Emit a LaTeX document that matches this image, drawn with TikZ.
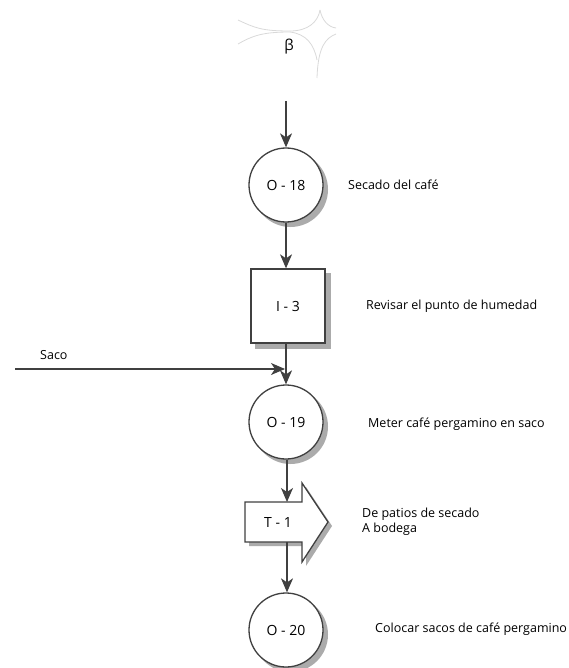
\documentclass[tikz,border=0pt]{standalone}
\usepackage{fontspec}
\setmainfont{Open Sans}
\usetikzlibrary{positioning}
\usetikzlibrary{arrows.meta}
\usetikzlibrary{backgrounds}
\definecolor{lineg}{HTML}{404040}
\definecolor{shadowg}{HTML}{ABABAB}
\tikzset {
  % operation circles
  oper/.style = {draw=lineg, circle, line width=1.3pt, fill=white, minimum size=74pt, inner sep=0pt},
  % inspection box
  insp/.style = {draw=lineg, line width=1.3pt, fill=white, minimum size=74pt, inner sep=0pt},
  % transport arrow
  transp/.style = {draw=lineg, line width=1.3pt, fill=white},
  % grey shadow
  shade/.style = {fill=shadowg},
  % text beside the symbols
  lbl/.style = {anchor=west, inner sep=0pt, font=\fontsize{12.5}{15}\selectfont},
  code/.style = {font=\fontsize{14}{16}\selectfont},
  % flow lines
  flow/.style = {lineg, line width=1.3pt, -{Stealth[length=14pt,width=12pt,inset=4pt]}},
  faint/.style = {black!15, line width=0.8pt},
}

\begin{document}
\begin{tikzpicture}[x=1pt,y=-1pt]
  \useasboundingbox (0,0) rectangle (569,668);

  % connector beta
  \draw[faint] (238,20) .. controls (255,28) and (262,31) .. (290,31);
  \draw[faint] (238,44) .. controls (252,36) and (262,32) .. (290,32);
  \draw[faint] (290,31) .. controls (308,31) and (318,22) .. (320,10);
  \draw[faint] (320,10) .. controls (322,20) and (328,27) .. (336,28);
  \draw[faint] (336,34) .. controls (326,38) and (318,46) .. (317,78);
  \draw[faint] (290,32) .. controls (306,34) and (314,44) .. (317,60);
  \node[font=\fontsize{15}{17}\selectfont] (beta) at (289,47) {β};

  \coordinate (start) at (286,101);

  \node[oper, code] (o18) at (286,185) {O - 18};
  \node[lbl] (l18) at (348,185) {Secado del café};

  \node[insp, code] (i3) at (288,306) {I - 3};
  \node[lbl] (l3) at (366,306) {Revisar el punto de humedad};

  \node[oper, code] (o19) at (286,422) {O - 19};
  \node[lbl] (l19) at (368,424) {Meter café pergamino en saco};

  \coordinate (saco) at (15,369);
  \coordinate (sacoend) at (285,369);
  \node[lbl] (lsaco) at (40,355) {Saco};

  % transport arrow T
  \filldraw[transp] (245,502) -- (302,502) -- (302,483) -- (328,522) -- (302,562)
    -- (302,542) -- (245,542) -- cycle;
  \node[code] (t1) at (278,522) {T - 1};
  \coordinate (ttop) at (287,502);
  \coordinate (tbot) at (287,542);
  \node[lbl, align=left] (lt1) at (362,522) {De patios de secado\\A bodega};

  \node[oper, code] (o20) at (286,630) {O - 20};
  \node[lbl] (l20) at (375,629) {Colocar sacos de café pergamino};

  % shadows
  \begin{scope}[on background layer]
    \foreach \n in {o18, o19, o20}
      \fill[shade] ([shift={(4.5,4.5)}]\n.center) circle (37.5);
    \fill[shade] ([shift={(5,5)}]i3.south west) rectangle ([shift={(5,5)}]i3.north east);
    \fill[shade, shift={(4,4)}] (245,502) -- (302,502) -- (302,483) -- (328,522) -- (302,562)
      -- (302,542) -- (245,542) -- cycle;
  \end{scope}

  \draw[flow] (start) -- (o18);
  \draw[flow] (o18) -- (i3.north -| o18);
  \draw[flow] (i3.south -| o19) -- (o19);
  \draw[flow] (saco) -- (sacoend);
  \draw[flow] (o19.south -| ttop) -- (ttop);
  \draw[flow] (tbot) -- (o20.north -| tbot);
\end{tikzpicture}
\end{document}
